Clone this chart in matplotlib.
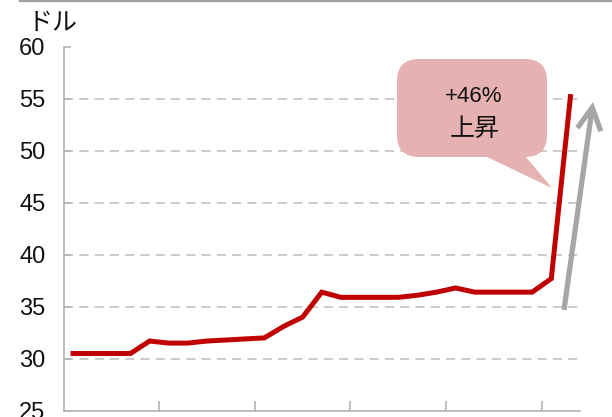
import matplotlib
matplotlib.use("Agg")
import matplotlib.pyplot as plt
from matplotlib.patches import FancyBboxPatch, Polygon
from matplotlib.lines import Line2D

# ---- data ----
values = [30.5, 30.5, 30.5, 30.5, 31.7, 31.5, 31.5, 31.7, 31.8, 31.9, 32.0,
          33.1, 34.0, 36.4, 35.9, 35.9, 35.9, 35.9, 36.1, 36.4, 36.8, 36.4,
          36.4, 36.4, 36.4, 37.7, 55.2]
y_ticks = [25, 30, 35, 40, 45, 50, 55, 60]
y_unit = "ドル"
callout_lines = ["+46%", "上昇"]

W, H = 612, 417
fig = plt.figure(figsize=(W / 100, H / 100), dpi=100)
ax = fig.add_axes([63.5 / W, 1 - 410.7 / H, (580 - 63.5) / W, (410.7 - 46.7) / H])

x = list(range(len(values)))
ax.plot(x, values, color="#C00000", lw=3.6, solid_joinstyle="miter", zorder=3)

ax.set_xlim(-0.5, len(values) - 0.5)
ax.set_ylim(y_ticks[0], y_ticks[-1])
ax.set_yticks(y_ticks)
ax.set_xticks([i * 5 - 0.5 for i in range(1, 6)])
ax.set_xticklabels([])

gray = "#B3B3B3"
for s in ["top", "right"]:
    ax.spines[s].set_visible(False)
for s in ["left", "bottom"]:
    ax.spines[s].set_color(gray)
    ax.spines[s].set_linewidth(1.2)

ax.tick_params(axis="y", direction="in", length=5, width=1.2, color=gray,
               labelsize=17, pad=13)
ax.tick_params(axis="x", direction="in", length=7, width=1.2, color=gray)
for lab in ax.get_yticklabels():
    lab.set_fontfamily("Liberation Sans")
    lab.set_color("#111111")

for v in y_ticks[1:-1]:
    ax.axhline(v, color="#BDBDBD", lw=1.1, ls=(0, (6, 4)), zorder=1)

# unit label
fig.text(53 / W, 1 - 23 / H, y_unit, ha="center", va="center", fontsize=18,
         family=["Noto Sans CJK JP", "DejaVu Sans"], color="#111111")

# top border line
fig.add_artist(Line2D([20 / W, 1], [1 - 1.2 / H, 1 - 1.2 / H], color="#A0A0A0",
                      lw=1.6, transform=fig.transFigure))


def fx(px):
    return px / W


def fy(py):
    return 1 - py / H


# callout
box_col = "#E6B1B1"
bx0, bx1, by0, by1 = 397, 547, 59, 157
box = FancyBboxPatch((bx0, H - by1), bx1 - bx0, by1 - by0,
                     boxstyle="round,pad=0,rounding_size=22",
                     transform=None, facecolor=box_col, edgecolor="none", zorder=4)
fig.add_artist(box)
tail = Polygon([(485, H - 156), (525, H - 156), (552, H - 188)], closed=True,
               transform=None, facecolor=box_col, edgecolor="none", zorder=4)
fig.add_artist(tail)
fig.text(fx(474), fy(97), callout_lines[0], ha="center", va="center", fontsize=16,
         family=["Liberation Sans", "DejaVu Sans"], color="#111111", zorder=5)
fig.text(fx(475), fy(129), callout_lines[1], ha="center", va="center", fontsize=18,
         family=["Noto Sans CJK JP", "DejaVu Sans"], color="#111111", zorder=5)

# gray arrow
ax.annotate("", xy=(593, H - 102), xytext=(564, H - 310),
            xycoords="figure pixels", textcoords="figure pixels",
            arrowprops=dict(arrowstyle="->,head_length=1.6,head_width=0.85",
                            color="#A6A6A6", lw=3.8, mutation_scale=10,
                            shrinkA=0, shrinkB=0, joinstyle="miter",
                            capstyle="butt"),
            annotation_clip=False)

fig.savefig("out.png", dpi=100)
